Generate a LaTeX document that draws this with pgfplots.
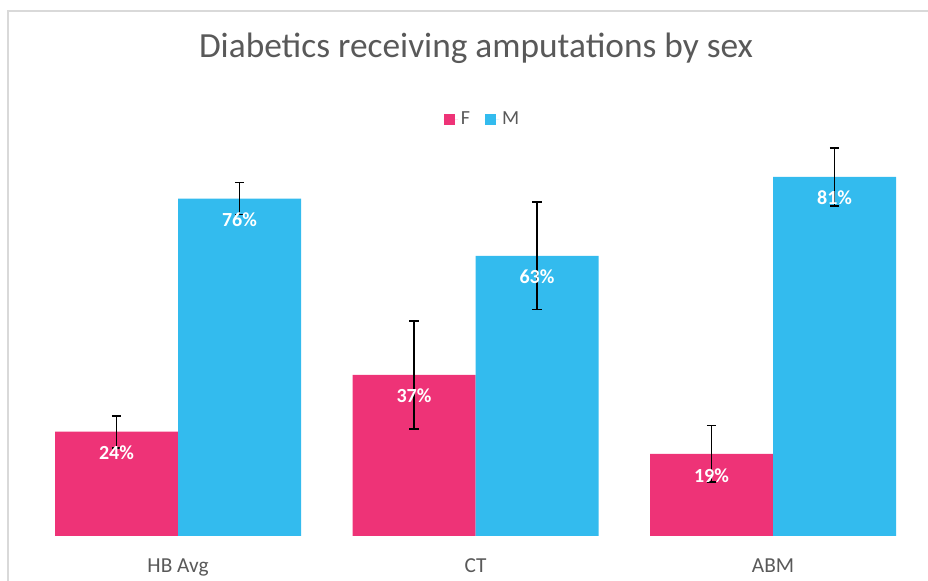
\documentclass[border=0pt]{standalone}
\usepackage{pgfplots}
\pgfplotsset{compat=1.18}
\usepackage{pgfplotstable}
\usepackage{fontspec}
\setmainfont{Carlito}

\definecolor{fem}{RGB}{238,51,119}
\definecolor{mal}{RGB}{51,187,238}
\definecolor{txtgray}{RGB}{89,89,89}
\definecolor{frame}{RGB}{217,217,217}

% x, value, error, label
\pgfplotstableread{
x  y     e     lab
0  23.5  3.6   24\%
1  36.3  12.2  37\%
2  18.5  6.4   19\%
}\female
\pgfplotstableread{
x  y     e     lab
0  76.0  3.6   76\%
1  63.1  12.1  63\%
2  80.9  6.5   81\%
}\male

\begin{document}
\begin{tikzpicture}
\path[use as bounding box] (0,0) rectangle (696pt,435.75pt);
% chart frame (only top and left edges fall inside the picture)
\draw[frame, line width=0.8pt] (6pt,0) -- (6pt,427.5pt) -- (696pt,427.5pt);

\begin{axis}[
    at={(21.94pt,33.75pt)}, anchor=south west,
    scale only axis,
    width=669.4pt, height=333pt,
    ybar=0pt, bar width=92.25pt,
    xmin=-0.5, xmax=2.5,
    ymin=0, ymax=100,
    xtick={0,1,2},
    xticklabels={HB Avg, CT, ABM},
    ytick=\empty,
    axis line style={draw=none},
    tick style={draw=none},
    xticklabel style={anchor=base, yshift=-23pt, text=txtgray,
        font=\fontsize{16}{19}\selectfont},
    nodes near coords,
    point meta=explicit symbolic,
    every node near coord/.append style={anchor=center, yshift=-16pt,
        text=white, font=\bfseries\fontsize{15}{18}\selectfont},
    error bars/y dir=both,
    error bars/y explicit,
    error bars/error bar style={black, line width=1.3pt},
    error bars/error mark options={rotate=90, black, mark size=3.5pt, line width=1.3pt},
    legend columns=2,
    legend style={draw=none, fill=none, at={(0.508,0.939)}, anchor=center,
        font=\fontsize{15}{18}\selectfont, text=txtgray,
        /tikz/every even column/.append style={column sep=9pt}},
    legend image code/.code={
        \path (0pt,0pt) -- (11pt,0pt);
        \fill[#1] (0pt,-4.1pt) rectangle (8.25pt,4.1pt);},
]
\addplot[fill=fem, draw=none] table[x=x, y=y, y error=e, meta=lab] {\female};
\addplot[fill=mal, draw=none] table[x=x, y=y, y error=e, meta=lab] {\male};
\legend{F, M}
\end{axis}

\node[anchor=base, text=txtgray, font=\fontsize{26.5}{30}\selectfont]
    at (357pt,392.5pt) {Diabetics receiving amputations by sex};
\end{tikzpicture}
\end{document}
